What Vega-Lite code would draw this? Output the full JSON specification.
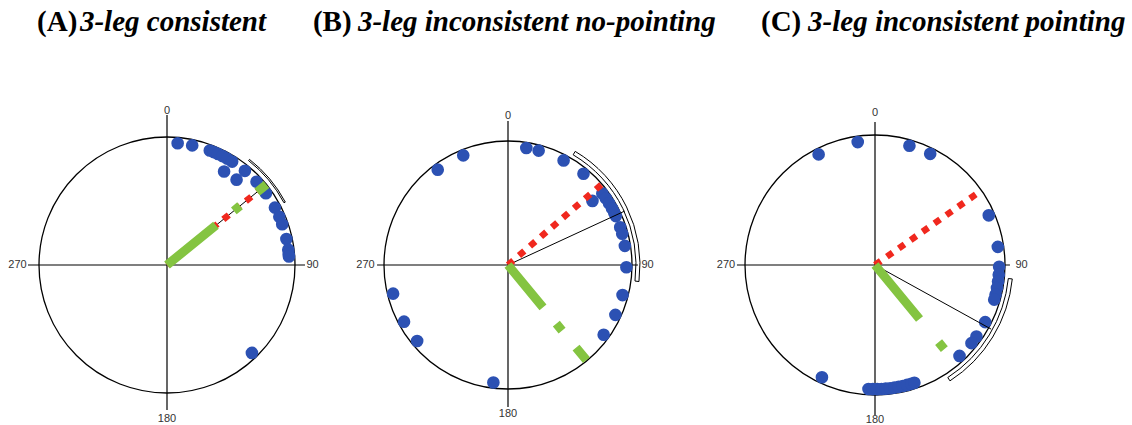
{
  "$schema": "https://vega.github.io/schema/vega-lite/v6.json",
  "padding": 0,
  "spacing": 0,
  "bounds": "flush",
  "background": "white",
  "config": {"view": {"stroke": null}},
  "hconcat": [
    {
      "width": 334, "height": 425,
      "layer": [
        {"data": {"values": [{"x": 0, "y": 0}]},
         "mark": {"type": "arc", "theta": 0, "theta2": 6.2832, "radius": 128, "fill": null, "stroke": "black", "strokeWidth": 1.3},
         "encoding": {"x": {"field": "x", "type": "quantitative", "axis": null, "scale": {"domain": [-1.3047, 1.3047], "nice": false, "zero": false}},
                      "y": {"field": "y", "type": "quantitative", "axis": null, "scale": {"domain": [-1.25, 2.0703], "nice": false, "zero": false}}}},
        {"data": {"values": [{"x": -1.086, "y": 0, "x2": 1.078, "y2": 0}, {"x": 0, "y": -1.133, "x2": 0, "y2": 1.172}]},
         "mark": {"type": "rule", "color": "black", "strokeWidth": 1.2},
         "encoding": {"x": {"field": "x", "type": "quantitative"}, "y": {"field": "y", "type": "quantitative"}, "x2": {"field": "x2"}, "y2": {"field": "y2"}}},
        {"data": {"values": [{"t": "0", "x": 0, "y": 1.2}, {"t": "180", "x": 0, "y": -1.2}, {"t": "270", "x": -1.168, "y": 0}, {"t": "90", "x": 1.137, "y": 0}]},
         "mark": {"type": "text", "font": "Liberation Sans", "fontSize": 11, "fill": "#333333", "align": "center", "baseline": "middle"},
         "encoding": {"x": {"field": "x", "type": "quantitative"}, "y": {"field": "y", "type": "quantitative"}, "text": {"field": "t"}}},
        {"data": {"values": [
          {"x": 0.0832, "y": 0.9514}, {"x": 0.1969, "y": 0.9345}, {"x": 0.3344, "y": 0.8945}, {"x": 0.3655, "y": 0.8823},
          {"x": 0.3991, "y": 0.8676}, {"x": 0.4336, "y": 0.8509}, {"x": 0.4702, "y": 0.8312}, {"x": 0.5089, "y": 0.8081},
          {"x": 0.4460, "y": 0.7307}, {"x": 0.5435, "y": 0.6664}, {"x": 0.6087, "y": 0.7358}, {"x": 0.6995, "y": 0.6501},
          {"x": 0.7726, "y": 0.5613}, {"x": 0.8432, "y": 0.4484}, {"x": 0.8777, "y": 0.3762}, {"x": 0.9002, "y": 0.3188},
          {"x": 0.9330, "y": 0.2034}, {"x": 0.9475, "y": 0.1197}, {"x": 0.9509, "y": 0.0882}, {"x": 0.9527, "y": 0.0666},
          {"x": 0.6634, "y": -0.6869}]},
         "mark": {"type": "point", "shape": "circle", "filled": true, "size": 160, "color": "#2c51b3", "opacity": 1},
         "encoding": {"x": {"field": "x", "type": "quantitative"}, "y": {"field": "y", "type": "quantitative"}}},
        {"data": {"values": [{"x": 0, "y": 0, "x2": 0.7771, "y2": 0.6293}]},
         "mark": {"type": "rule", "color": "black", "strokeWidth": 1},
         "encoding": {"x": {"field": "x", "type": "quantitative"}, "y": {"field": "y", "type": "quantitative"}, "x2": {"field": "x2"}, "y2": {"field": "y2"}}},
        {"data": {"values": [{"x": 0, "y": 0, "x2": 0.7771, "y2": 0.6293}]},
         "mark": {"type": "rule", "color": "#f0281e", "strokeWidth": 6.5, "strokeDash": [7, 7.5], "strokeCap": "butt"},
         "encoding": {"x": {"field": "x", "type": "quantitative"}, "y": {"field": "y", "type": "quantitative"}, "x2": {"field": "x2"}, "y2": {"field": "y2"}}},
        {"data": {"values": [{"x": 0, "y": 0, "x2": 0.7771, "y2": 0.6293}]},
         "mark": {"type": "rule", "color": "#84c441", "strokeWidth": 9, "strokeDash": [63, 23, 8, 22, 20], "strokeCap": "butt"},
         "encoding": {"x": {"field": "x", "type": "quantitative"}, "y": {"field": "y", "type": "quantitative"}, "x2": {"field": "x2"}, "y2": {"field": "y2"}}},
        {"data": {"values": [{"x": 0, "y": 0, "a1": 38, "a2": 62}]},
         "mark": {"type": "arc", "radius": 134, "innerRadius": 132.5, "fill": null, "stroke": "black", "strokeWidth": 1},
         "encoding": {"x": {"field": "x", "type": "quantitative"}, "y": {"field": "y", "type": "quantitative"},
                      "theta": {"field": "a1", "type": "quantitative", "stack": null, "scale": {"domain": [0, 360], "range": [0, 6.28319]}}, "theta2": {"field": "a2"}}},
        {"data": {"values": [{"t": "(A)", "x": -1.015, "y": 1.828}]},
         "mark": {"type": "text", "font": "Liberation Serif", "fontSize": 29, "fontWeight": "bold", "fill": "black", "align": "left", "baseline": "alphabetic"},
         "encoding": {"x": {"field": "x", "type": "quantitative"}, "y": {"field": "y", "type": "quantitative"}, "text": {"field": "t"}}},
        {"data": {"values": [{"t": "3-leg consistent", "x": -0.68, "y": 1.828}]},
         "mark": {"type": "text", "font": "Liberation Serif", "fontSize": 29, "fontWeight": "bold", "fontStyle": "italic", "fill": "black", "align": "left", "baseline": "alphabetic"},
         "encoding": {"x": {"field": "x", "type": "quantitative"}, "y": {"field": "y", "type": "quantitative"}, "text": {"field": "t"}}}
      ]
    },
    {
      "width": 348, "height": 425,
      "layer": [
        {"data": {"values": [{"x": 0, "y": 0}]},
         "mark": {"type": "arc", "theta": 0, "theta2": 6.2832, "radius": 124, "fill": null, "stroke": "black", "strokeWidth": 1.3},
         "encoding": {"x": {"field": "x", "type": "quantitative", "axis": null, "scale": {"domain": [-1.4032, 1.4032], "nice": false, "zero": false}},
                      "y": {"field": "y", "type": "quantitative", "axis": null, "scale": {"domain": [-1.2903, 2.1371], "nice": false, "zero": false}}}},
        {"data": {"values": [{"x": -1.056, "y": 0, "x2": 1.048, "y2": 0}, {"x": 0, "y": -1.145, "x2": 0, "y2": 1.161}]},
         "mark": {"type": "rule", "color": "black", "strokeWidth": 1.2},
         "encoding": {"x": {"field": "x", "type": "quantitative"}, "y": {"field": "y", "type": "quantitative"}, "x2": {"field": "x2"}, "y2": {"field": "y2"}}},
        {"data": {"values": [{"t": "0", "x": 0, "y": 1.202}, {"t": "180", "x": 0, "y": -1.202}, {"t": "270", "x": -1.149, "y": 0}, {"t": "90", "x": 1.125, "y": 0}]},
         "mark": {"type": "text", "font": "Liberation Sans", "fontSize": 11, "fill": "#333333", "align": "center", "baseline": "middle"},
         "encoding": {"x": {"field": "x", "type": "quantitative"}, "y": {"field": "y", "type": "quantitative"}, "text": {"field": "t"}}},
        {"data": {"values": [
          {"x": 0.1478, "y": 0.9435}, {"x": 0.2472, "y": 0.9225}, {"x": 0.4484, "y": 0.8432}, {"x": 0.6087, "y": 0.7358},
          {"x": 0.6810, "y": 0.5169}, {"x": 0.7607, "y": 0.5774}, {"x": 0.7889, "y": 0.5381}, {"x": 0.8150, "y": 0.4976},
          {"x": 0.8385, "y": 0.4572}, {"x": 0.8569, "y": 0.4216}, {"x": 0.8697, "y": 0.3945}, {"x": 0.9051, "y": 0.3046},
          {"x": 0.9212, "y": 0.2520}, {"x": 0.9425, "y": 0.1543}, {"x": 0.9548, "y": -0.0183}, {"x": 0.9238, "y": -0.2424},
          {"x": 0.8662, "y": -0.4021}, {"x": 0.7716, "y": -0.5627}, {"x": -0.1180, "y": -0.9477}, {"x": -0.7327, "y": -0.6125},
          {"x": -0.8385, "y": -0.4572}, {"x": -0.9266, "y": -0.2310}, {"x": -0.5667, "y": 0.7687}, {"x": -0.3608, "y": 0.8842}]},
         "mark": {"type": "point", "shape": "circle", "filled": true, "size": 160, "color": "#2c51b3", "opacity": 1},
         "encoding": {"x": {"field": "x", "type": "quantitative"}, "y": {"field": "y", "type": "quantitative"}}},
        {"data": {"values": [{"x": 0, "y": 0, "x2": 0.9405, "y2": 0.4346}]},
         "mark": {"type": "rule", "color": "black", "strokeWidth": 1},
         "encoding": {"x": {"field": "x", "type": "quantitative"}, "y": {"field": "y", "type": "quantitative"}, "x2": {"field": "x2"}, "y2": {"field": "y2"}}},
        {"data": {"values": [{"x": 0, "y": 0, "x2": 0.7581, "y2": 0.6521}]},
         "mark": {"type": "rule", "color": "#f0281e", "strokeWidth": 6.5, "strokeDash": [7, 7.5], "strokeCap": "butt"},
         "encoding": {"x": {"field": "x", "type": "quantitative"}, "y": {"field": "y", "type": "quantitative"}, "x2": {"field": "x2"}, "y2": {"field": "y2"}}},
        {"data": {"values": [{"x": 0, "y": 0, "x2": 0.6329, "y2": -0.7677}]},
         "mark": {"type": "rule", "color": "#84c441", "strokeWidth": 9, "strokeDash": [55, 21, 9, 22, 20], "strokeCap": "butt"},
         "encoding": {"x": {"field": "x", "type": "quantitative"}, "y": {"field": "y", "type": "quantitative"}, "x2": {"field": "x2"}, "y2": {"field": "y2"}}},
        {"data": {"values": [{"x": 0, "y": 0, "a1": 30.6, "a2": 97.2}]},
         "mark": {"type": "arc", "radius": 132, "innerRadius": 128, "fill": null, "stroke": "black", "strokeWidth": 1},
         "encoding": {"x": {"field": "x", "type": "quantitative"}, "y": {"field": "y", "type": "quantitative"},
                      "theta": {"field": "a1", "type": "quantitative", "stack": null, "scale": {"domain": [0, 360], "range": [0, 6.28319]}}, "theta2": {"field": "a2"}}},
        {"data": {"values": [{"t": "(B)", "x": -1.573, "y": 1.887}]},
         "mark": {"type": "text", "font": "Liberation Serif", "fontSize": 29, "fontWeight": "bold", "fill": "black", "align": "left", "baseline": "alphabetic"},
         "encoding": {"x": {"field": "x", "type": "quantitative"}, "y": {"field": "y", "type": "quantitative"}, "text": {"field": "t"}}},
        {"data": {"values": [{"t": "3-leg inconsistent no-pointing", "x": -1.21, "y": 1.887}]},
         "mark": {"type": "text", "font": "Liberation Serif", "fontSize": 29, "fontWeight": "bold", "fontStyle": "italic", "fill": "black", "align": "left", "baseline": "alphabetic"},
         "encoding": {"x": {"field": "x", "type": "quantitative"}, "y": {"field": "y", "type": "quantitative"}, "text": {"field": "t"}}}
      ]
    },
    {
      "width": 386, "height": 425,
      "layer": [
        {"data": {"values": [{"x": 0, "y": 0}]},
         "mark": {"type": "arc", "theta": 0, "theta2": 6.2832, "radius": 130, "fill": null, "stroke": "black", "strokeWidth": 1.3},
         "encoding": {"x": {"field": "x", "type": "quantitative", "axis": null, "scale": {"domain": [-1.4846, 1.4846], "nice": false, "zero": false}},
                      "y": {"field": "y", "type": "quantitative", "axis": null, "scale": {"domain": [-1.2308, 2.0385], "nice": false, "zero": false}}}},
        {"data": {"values": [{"x": -1.062, "y": 0, "x2": 1.038, "y2": 0}, {"x": 0, "y": -1.154, "x2": 0, "y2": 1.1}]},
         "mark": {"type": "rule", "color": "black", "strokeWidth": 1.2},
         "encoding": {"x": {"field": "x", "type": "quantitative"}, "y": {"field": "y", "type": "quantitative"}, "x2": {"field": "x2"}, "y2": {"field": "y2"}}},
        {"data": {"values": [{"t": "0", "x": 0, "y": 1.169}, {"t": "180", "x": 0, "y": -1.19}, {"t": "270", "x": -1.146, "y": 0}, {"t": "90", "x": 1.127, "y": 0}]},
         "mark": {"type": "text", "font": "Liberation Sans", "fontSize": 11, "fill": "#333333", "align": "center", "baseline": "middle"},
         "encoding": {"x": {"field": "x", "type": "quantitative"}, "y": {"field": "y", "type": "quantitative"}, "text": {"field": "t"}}},
        {"data": {"values": [
          {"x": -0.1329, "y": 0.9457}, {"x": -0.4336, "y": 0.8509}, {"x": 0.2648, "y": 0.9176}, {"x": 0.4246, "y": 0.8554},
          {"x": 0.8752, "y": 0.3823}, {"x": 0.9448, "y": 0.1395}, {"x": 0.9549, "y": -0.0134}, {"x": 0.9520, "y": -0.0750},
          {"x": 0.9466, "y": -0.1263}, {"x": 0.9384, "y": -0.1773}, {"x": 0.9274, "y": -0.2278}, {"x": 0.9171, "y": -0.2664},
          {"x": 0.8478, "y": -0.4395}, {"x": 0.7803, "y": -0.5505}, {"x": 0.7421, "y": -0.6010}, {"x": 0.6501, "y": -0.6995},
          {"x": -0.4082, "y": -0.8634}, {"x": -0.0500, "y": -0.9537}, {"x": -0.0167, "y": -0.9548}, {"x": 0.0167, "y": -0.9548},
          {"x": 0.0500, "y": -0.9537}, {"x": 0.0832, "y": -0.9513}, {"x": 0.1164, "y": -0.9478}, {"x": 0.1494, "y": -0.9433},
          {"x": 0.1822, "y": -0.9374}, {"x": 0.2149, "y": -0.9305}, {"x": 0.2472, "y": -0.9225}, {"x": 0.2792, "y": -0.9133},
          {"x": 0.3030, "y": -0.9056}]},
         "mark": {"type": "point", "shape": "circle", "filled": true, "size": 160, "color": "#2c51b3", "opacity": 1},
         "encoding": {"x": {"field": "x", "type": "quantitative"}, "y": {"field": "y", "type": "quantitative"}}},
        {"data": {"values": [{"x": 0, "y": 0, "x2": 0.8930, "y2": -0.4930}]},
         "mark": {"type": "rule", "color": "black", "strokeWidth": 1},
         "encoding": {"x": {"field": "x", "type": "quantitative"}, "y": {"field": "y", "type": "quantitative"}, "x2": {"field": "x2"}, "y2": {"field": "y2"}}},
        {"data": {"values": [{"x": 0, "y": 0, "x2": 0.8110, "y2": 0.5679}]},
         "mark": {"type": "rule", "color": "#f0281e", "strokeWidth": 6.5, "strokeDash": [7, 7.5], "strokeCap": "butt"},
         "encoding": {"x": {"field": "x", "type": "quantitative"}, "y": {"field": "y", "type": "quantitative"}, "x2": {"field": "x2"}, "y2": {"field": "y2"}}},
        {"data": {"values": [{"x": 0, "y": 0, "x2": 0.5343, "y2": -0.6481}]},
         "mark": {"type": "rule", "color": "#84c441", "strokeWidth": 9, "strokeDash": [70, 30, 9, 30], "strokeCap": "butt"},
         "encoding": {"x": {"field": "x", "type": "quantitative"}, "y": {"field": "y", "type": "quantitative"}, "x2": {"field": "x2"}, "y2": {"field": "y2"}}},
        {"data": {"values": [{"x": 0, "y": 0, "a1": 95.8, "a2": 147.1}]},
         "mark": {"type": "arc", "radius": 138, "innerRadius": 134, "fill": null, "stroke": "black", "strokeWidth": 1},
         "encoding": {"x": {"field": "x", "type": "quantitative"}, "y": {"field": "y", "type": "quantitative"},
                      "theta": {"field": "a1", "type": "quantitative", "stack": null, "scale": {"domain": [0, 360], "range": [0, 6.28319]}}, "theta2": {"field": "a2"}}},
        {"data": {"values": [{"t": "(C)", "x": -0.877, "y": 1.8}]},
         "mark": {"type": "text", "font": "Liberation Serif", "fontSize": 29, "fontWeight": "bold", "fill": "black", "align": "left", "baseline": "alphabetic"},
         "encoding": {"x": {"field": "x", "type": "quantitative"}, "y": {"field": "y", "type": "quantitative"}, "text": {"field": "t"}}},
        {"data": {"values": [{"t": "3-leg inconsistent pointing", "x": -0.515, "y": 1.8}]},
         "mark": {"type": "text", "font": "Liberation Serif", "fontSize": 29, "fontWeight": "bold", "fontStyle": "italic", "fill": "black", "align": "left", "baseline": "alphabetic"},
         "encoding": {"x": {"field": "x", "type": "quantitative"}, "y": {"field": "y", "type": "quantitative"}, "text": {"field": "t"}}}
      ]
    }
  ]
}
